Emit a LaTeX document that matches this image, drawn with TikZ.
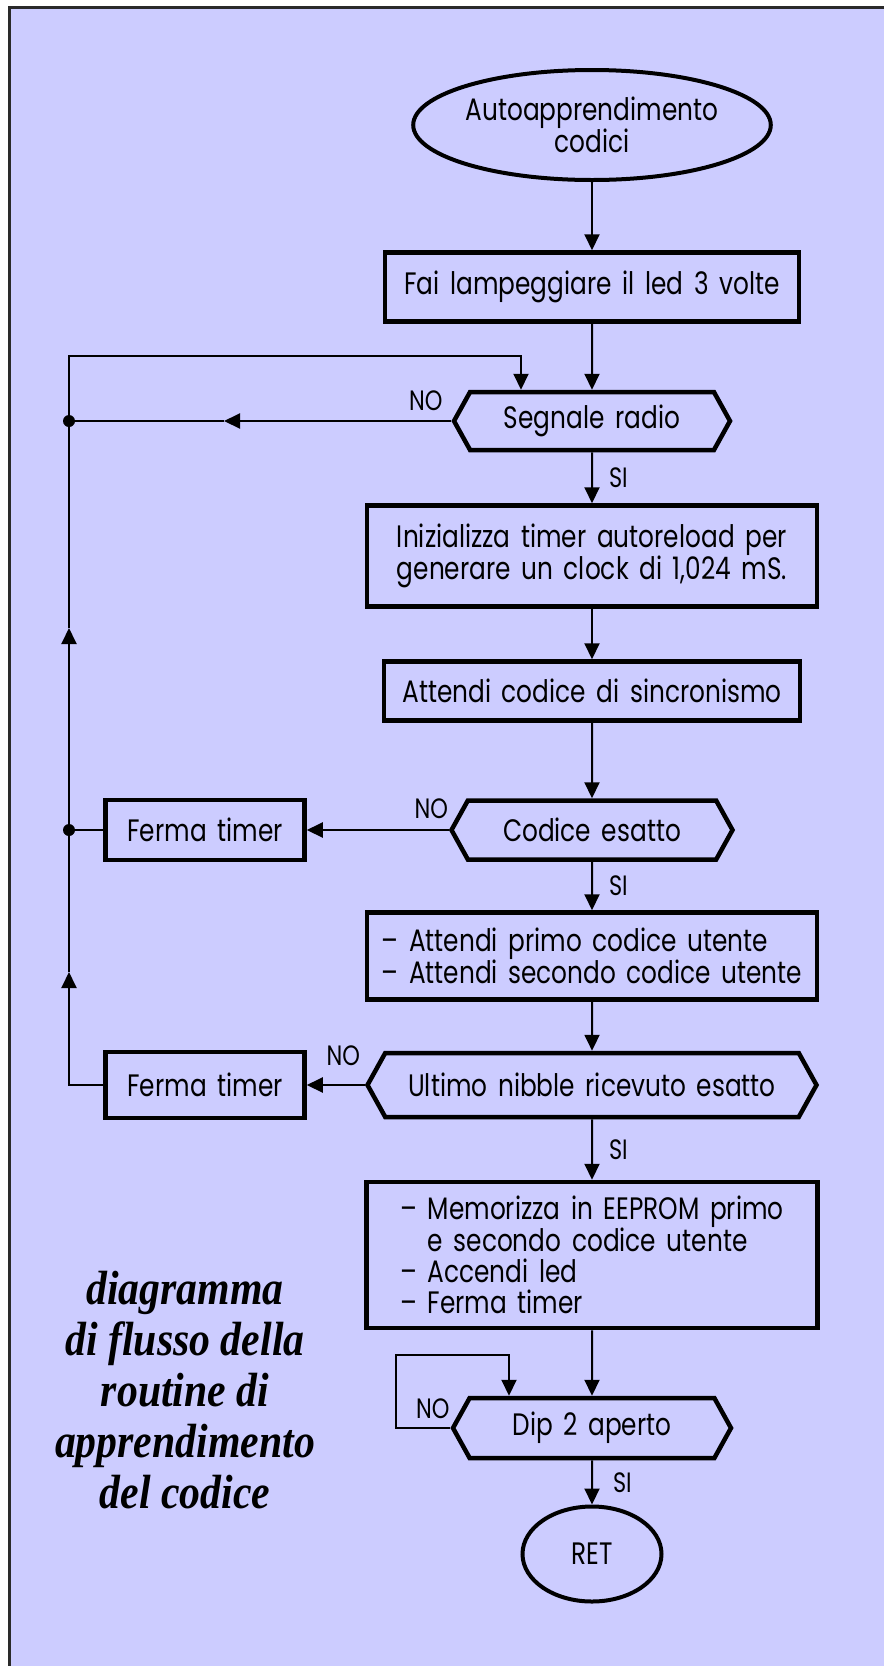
\documentclass[tikz,border=0pt]{standalone}
\usepackage{fontspec}
\newfontfamily\cadfont[FakeStretch=0.8, WordSpace=1.6, Ligatures=TeX]{Poppins}
\newfontfamily\capfont[FakeStretch=0.87]{Liberation Serif}
\usetikzlibrary{arrows.meta, shapes.geometric, shapes.symbols}
\definecolor{clav}{HTML}{CCCCFF}
\definecolor{cframe}{HTML}{2A2A2A}
\tikzset{
  every picture/.style={x=1pt, y=-1pt, line width=2pt},
  box/.style={draw, line width=4.5pt, align=left, inner sep=0pt, font=\cadfont\fontsize{31}{31}\selectfont},
  decision/.style={draw, signal, signal to=east and west, signal pointer angle=122, line width=4.5pt, inner sep=0pt, font=\cadfont\fontsize{31}{31}\selectfont},
  terminal/.style={draw, ellipse, line width=4pt, align=center, inner sep=0pt, font=\cadfont\fontsize{31}{31}\selectfont},
  arrow/.style={-{Triangle[length=16pt, width=15pt]}, line width=2pt},
  line/.style={line width=2pt},
  lbl/.style={inner sep=0pt, font=\cadfont\fontsize{28}{30}\selectfont},
  caption/.style={align=center, inner sep=0pt, font=\capfont\bfseries\itshape\fontsize{48}{51}\selectfont},
}

\begin{document}
\begin{tikzpicture}
  \useasboundingbox (0,0) rectangle (884,1666);
  % sfondo e cornice
  \fill[clav] (9.5,7.5) rectangle (884,1666);
  \draw[cframe, line width=3pt] (884,7.5) -- (9.5,7.5) -- (9.5,1666);

  \node[terminal, minimum width=312, minimum height=110] (start) at (592,125) {Autoapprendimento\\codici};
  \node[box, minimum width=414, minimum height=69] (blink) at (592,287) {Fai lampeggiare il led 3 volte};
  \node[decision, minimum width=276, minimum height=58] (radio) at (592,421) {Segnale radio};
  \node[box, minimum width=450, minimum height=101] (init) at (592,556) {Inizializza timer autoreload per\\generare un clock di 1,024 mS.};
  \node[box, minimum width=416, minimum height=59] (sync) at (592,691) {Attendi codice di sincronismo};
  \node[decision, minimum width=281, minimum height=59] (exact) at (592,830) {Codice esatto};
  \node[box, minimum width=199, minimum height=60] (stop1) at (205,830) {Ferma timer};
  \node[box, minimum width=450, minimum height=87] (user) at (592,956) {– Attendi primo codice utente\\– Attendi secondo codice utente};
  \node[decision, minimum width=449, minimum height=64] (nibble) at (592,1085) {Ultimo nibble ricevuto esatto};
  \node[box, minimum width=199, minimum height=66] (stop2) at (205,1085) {Ferma timer};
  \node[box, minimum width=451, minimum height=146] (store) at (592,1255) {– Memorizza in EEPROM primo\\\phantom{– }e secondo codice utente\\– Accendi led\\– Ferma timer};
  \node[decision, minimum width=278, minimum height=60] (dip) at (592,1428) {Dip 2 aperto};
  \node[terminal, minimum width=139, minimum height=95] (ret) at (592,1554) {RET};

  \node[caption] (title) at (185,1390) {diagramma\\di flusso della\\routine di\\apprendimento\\del codice};

  % punti del ritorno a sinistra
  \coordinate (j1) at (69,421);
  \coordinate (j2) at (69,830);
  \coordinate (up1) at (69,628);
  \coordinate (up2) at (69,972);
  \coordinate (top) at (69,356);
  \coordinate (in) at (521,356);
  \coordinate (lft) at (224,421);
  \coordinate (dl) at (396,1355);
  \coordinate (dr) at (509,1355);

  % flusso principale
  \draw[arrow] (start) -- (blink);
  \draw[arrow] (blink) -- (radio);
  \draw[arrow] (radio) -- node[lbl, right=16pt] {SI} (init);
  \draw[arrow] (init) -- (sync);
  \draw[arrow] (sync) -- (exact);
  \draw[arrow] (exact) -- node[lbl, right=16pt] {SI} (user);
  \draw[arrow] (user) -- (nibble);
  \draw[arrow] (nibble) -- node[lbl, right=16pt] {SI} (store);
  \draw[arrow] (store) -- (dip);
  \draw[arrow] (dip) -- node[lbl, right=20pt] {SI} (ret);

  % rami NO
  \draw[arrow] (radio.west) -- node[pos=0, lbl, anchor=south east, xshift=-8pt, yshift=9pt] {NO} (lft);
  \draw[line] (lft) -- (j1);
  \draw[arrow] (exact.west) -- node[pos=0, lbl, anchor=south east, yshift=10pt] {NO} (stop1);
  \draw[line] (stop1) -- (j2);
  \draw[arrow] (nibble.west) -- node[pos=0, lbl, anchor=south east, xshift=-4pt, yshift=18pt] {NO} (stop2);
  \draw[arrow] (stop2.west) -| (up2);
  \draw[arrow] (up2) -- (up1);
  \draw[arrow] (up1) -- (top) -- (in) -- (in |- radio.north);
  \fill (j1) circle (6);
  \fill (j2) circle (6);
  \draw[arrow] (dip.west) -| (dl) -- (dr) -- (dr |- dip.north);
  \node[lbl, anchor=south east, yshift=8pt] (nodip) at (dip.west) {NO};
\end{tikzpicture}
\end{document}
